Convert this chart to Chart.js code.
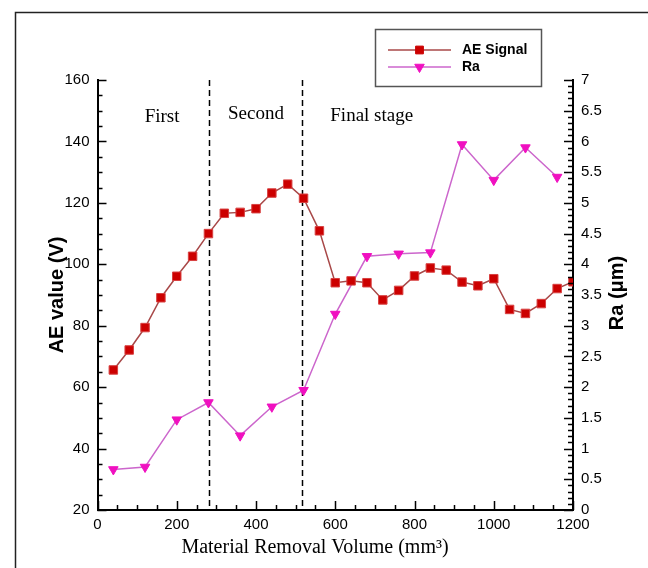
<!DOCTYPE html>
<html>
<head>
<meta charset="utf-8">
<script src="https://cdn.jsdelivr.net/npm/chart.js@4.4.0/dist/chart.umd.min.js"></script>
<style>
  html, body { margin: 0; padding: 0; background: #fff; }
  #wrap { width: 648px; height: 568px; }
</style>
</head>
<body>
<div id="wrap"><canvas id="chart" width="648" height="568"></canvas></div>
<script>
// AE signal readings (V) against material removal volume (mm3)
var aeVolume = [40, 80, 120, 160, 200, 240, 280, 320, 360, 400, 440, 480, 520, 560, 600,
  640, 680, 720, 760, 800, 840, 880, 920, 960, 1000, 1040, 1080, 1120, 1160, 1200];
var aeSignal = [65.6, 72.1, 79.4, 89.1, 96.1, 102.6, 110.0, 116.6, 116.9, 118.1, 123.2, 126.1, 121.5, 110.9, 94.0,
  94.6, 94.0, 88.4, 91.5, 96.2, 98.8, 98.1, 94.2, 93.0, 95.3, 85.3, 84.0, 87.2, 92.1, 94.3];

// surface roughness Ra (um)
var raVolume = [40, 120, 200, 280, 360, 440, 520, 600, 680, 760, 840, 920, 1000, 1080, 1160];
var raValues = [0.66, 0.70, 1.47, 1.75, 1.21, 1.68, 1.95, 3.19, 4.13, 4.17, 4.19, 5.95, 5.37, 5.90, 5.42];

// stage boundaries and names
var stageBounds = [281, 516];
var stageNames = ["First", "Second", "Final stage"];

// tick labels
var xTickValues = [0, 200, 400, 600, 800, 1000, 1200];
var aeTickValues = [20, 40, 60, 80, 100, 120, 140, 160];
var raTickValues = [0, 0.5, 1, 1.5, 2, 2.5, 3, 3.5, 4, 4.5, 5, 5.5, 6, 6.5, 7];

var aeLine = "#a84848";
var aeMarker = "#cc0000";
var raLine = "#cc66cc";
var raMarker = "#f010c0";

function toPoints(xs, ys) {
  return xs.map(function (x, i) { return { x: x, y: ys[i] }; });
}

function setTicks(values) {
  return function (scale) {
    scale.ticks = values.map(function (v) { return { value: v }; });
  };
}

function plainLabel(value) {
  return String(value);
}

// inward ticks, frame, stage lines, legend and titles
var decorPlugin = {
  id: "decor",
  beforeDraw: function (chart) {
    var ctx = chart.ctx;
    ctx.save();
    ctx.strokeStyle = "#222";
    ctx.lineWidth = 1.5;
    ctx.beginPath();
    ctx.moveTo(15.5, 568);
    ctx.lineTo(15.5, 12.5);
    ctx.lineTo(648, 12.5);
    ctx.stroke();
    ctx.restore();
  },
  beforeDatasetsDraw: function (chart) {
    var ctx = chart.ctx;
    var xs = chart.scales.x, ys = chart.scales.y;
    var top = ys.getPixelForValue(160), bottom = ys.getPixelForValue(20);
    ctx.save();
    ctx.strokeStyle = "#000";
    ctx.lineWidth = 1.5;
    ctx.setLineDash([6, 4]);
    stageBounds.forEach(function (b) {
      var px = Math.round(xs.getPixelForValue(b)) + 0.5;
      ctx.beginPath();
      ctx.moveTo(px, top);
      ctx.lineTo(px, bottom);
      ctx.stroke();
    });
    ctx.setLineDash([]);
    ctx.fillStyle = "#000";
    ctx.font = "19px 'Liberation Serif'";
    ctx.textAlign = "center";
    ctx.textBaseline = "middle";
    var labelX = [163, 400, 692];
    var labelY = [117, 114, 116];
    stageNames.forEach(function (n, i) {
      ctx.fillText(n, xs.getPixelForValue(labelX[i]), labelY[i]);
    });
    ctx.restore();
  },
  afterDraw: function (chart) {
    var ctx = chart.ctx;
    var xs = chart.scales.x, ys = chart.scales.y, rs = chart.scales.y1;
    var area = chart.chartArea;
    ctx.save();
    ctx.strokeStyle = "#000";
    ctx.lineWidth = 1.5;
    ctx.beginPath();
    var v, p, len;
    for (v = 0; v <= 1200; v += 50) {
      p = Math.round(xs.getPixelForValue(v)) + 0.5;
      len = v % 200 === 0 ? 9 : 5;
      ctx.moveTo(p, area.bottom);
      ctx.lineTo(p, area.bottom - len);
    }
    for (v = 20; v <= 160; v += 5) {
      p = Math.round(ys.getPixelForValue(v)) + 0.5;
      len = v % 20 === 0 ? 9 : 5;
      ctx.moveTo(area.left, p);
      ctx.lineTo(area.left + len, p);
    }
    for (v = 0; v <= 70; v += 1) {
      p = Math.round(rs.getPixelForValue(v / 10)) + 0.5;
      len = v % 5 === 0 ? 9 : 5;
      ctx.moveTo(area.right, p);
      ctx.lineTo(area.right - len, p);
    }
    ctx.stroke();

    // legend box
    ctx.strokeStyle = "#555";
    ctx.lineWidth = 1.5;
    ctx.strokeRect(375.5, 29.5, 166, 57);
    var rows = [
      { y: 50, line: aeLine, fill: aeMarker, style: "rect", rot: 0, r: 5.5, text: "AE Signal" },
      { y: 67, line: raLine, fill: raMarker, style: "triangle", rot: 180, r: 5.5, text: "Ra" }
    ];
    rows.forEach(function (row) {
      ctx.strokeStyle = row.line;
      ctx.lineWidth = 1.5;
      ctx.beginPath();
      ctx.moveTo(388, row.y);
      ctx.lineTo(451, row.y);
      ctx.stroke();
      ctx.fillStyle = row.fill;
      ctx.strokeStyle = row.fill;
      ctx.lineWidth = 1;
      Chart.helpers.drawPoint(ctx, { pointStyle: row.style, radius: row.r, rotation: row.rot, borderWidth: 1 }, 419.5, row.y);
      ctx.fillStyle = "#000";
      ctx.font = "bold 14px 'Liberation Sans'";
      ctx.textAlign = "left";
      ctx.textBaseline = "middle";
      ctx.fillText(row.text, 462, row.y);
    });

    // right axis title, reading bottom to top
    ctx.fillStyle = "#000";
    ctx.font = "bold 20px 'Liberation Sans'";
    ctx.textAlign = "center";
    ctx.textBaseline = "middle";
    ctx.save();
    ctx.translate(617, 293);
    ctx.rotate(-Math.PI / 2);
    ctx.fillText("Ra (\u03bcm)", 0, 0);
    ctx.restore();

    // x axis title
    ctx.font = "20px 'Liberation Serif'";
    ctx.fillText("Material Removal Volume (mm\u00b3)", 315, 548);
    ctx.restore();
  }
};

var tickFont = { family: "'Liberation Sans'", size: 15 };

new Chart(document.getElementById("chart"), {
  type: "line",
  data: {
    datasets: [
      {
        label: "AE Signal",
        data: toPoints(aeVolume, aeSignal),
        yAxisID: "y",
        borderColor: aeLine,
        borderWidth: 1.5,
        pointStyle: "rect",
        pointRadius: 6,
        pointBackgroundColor: aeMarker,
        pointBorderColor: "#d84040",
        pointBorderWidth: 1,
        tension: 0
      },
      {
        label: "Ra",
        data: toPoints(raVolume, raValues),
        yAxisID: "y1",
        borderColor: raLine,
        borderWidth: 1.5,
        pointStyle: "triangle",
        rotation: 180,
        pointRadius: 5.5,
        pointBackgroundColor: raMarker,
        pointBorderColor: raMarker,
        pointBorderWidth: 1,
        tension: 0
      }
    ]
  },
  options: {
    responsive: false,
    animation: false,
    devicePixelRatio: 1,
    layout: { padding: { top: 80, left: 0, right: 0, bottom: 0 } },
    plugins: {
      legend: { display: false },
      tooltip: { enabled: false }
    },
    scales: {
      x: {
        type: "linear",
        min: 0,
        max: 1200,
        afterBuildTicks: setTicks(xTickValues),
        afterFit: function (s) { s.height = 58; },
        grid: { display: false, drawTicks: false },
        border: { display: true, color: "#000", width: 2 },
        ticks: { color: "#000", font: tickFont, padding: 6, maxRotation: 0, callback: plainLabel }
      },
      y: {
        position: "left",
        min: 20,
        max: 160,
        afterBuildTicks: setTicks(aeTickValues),
        afterFit: function (s) { s.width = 97.5; },
        grid: { display: false, drawTicks: false },
        border: { display: true, color: "#000", width: 2 },
        ticks: { color: "#000", font: tickFont, padding: 8, callback: plainLabel },
        title: {
          display: true,
          text: "AE value (V)",
          color: "#000",
          font: { family: "'Liberation Sans'", size: 20, weight: "bold" },
          padding: { top: 45, bottom: 0 }
        }
      },
      y1: {
        position: "right",
        min: 0,
        max: 7,
        afterBuildTicks: setTicks(raTickValues),
        afterFit: function (s) { s.width = 75; },
        grid: { display: false, drawTicks: false },
        border: { display: true, color: "#000", width: 2 },
        ticks: { color: "#000", font: tickFont, padding: 8, callback: plainLabel }
      }
    }
  },
  plugins: [decorPlugin]
});
</script>
</body>
</html>
